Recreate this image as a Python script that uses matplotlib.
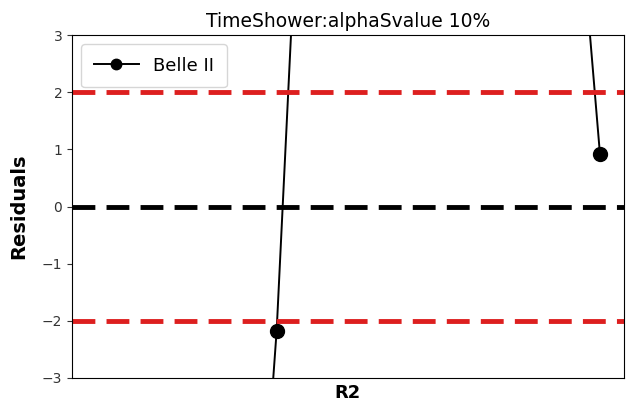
import numpy as np
import matplotlib
matplotlib.use("Agg")
import matplotlib.pyplot as plt

# residual points (most fall outside the +-3 window)
x_pos = [0, 1, 2, 3, 4]
residuals = [-28.5, -2.17, 36.7, 23.4, 0.91]
label = "Belle II"
title = "TimeShower:alphaSvalue 10%"
y_ticks = [-3, -2, -1, 0, 1, 2, 3]

fig = plt.figure(figsize=(6.36, 4.11), dpi=100)
ax = fig.add_axes([0.1132, 0.0803, 0.8678, 0.8345])

dash = (0, (4.7, 2.3))
ax.plot(x_pos, residuals, '-o', color='black', linewidth=1.4, markersize=10, label=label)
ax.axhline(0, color='black', linewidth=3.5, linestyle=dash)
ax.axhline(2, color='#dd1f1f', linewidth=3.5, linestyle=dash)
ax.axhline(-2, color='#dd1f1f', linewidth=3.5, linestyle=dash)

ax.set_xlim(-0.899, 4.222)
ax.set_ylim(-3, 3)
ax.set_yticks(y_ticks)
ax.set_xticks([])
ax.tick_params(axis='y', labelsize=10, colors='#333333')
ax.set_title(title, fontsize=13.5)
ax.set_ylabel("Residuals", fontsize=14, fontweight='bold', labelpad=10)
ax.set_xlabel("R2", fontsize=13, fontweight='bold')
ax.legend(loc='upper left', fontsize=13, handlelength=2.5, borderpad=0.7,
          markerscale=0.75)

plt.savefig("out.png", dpi=100)
